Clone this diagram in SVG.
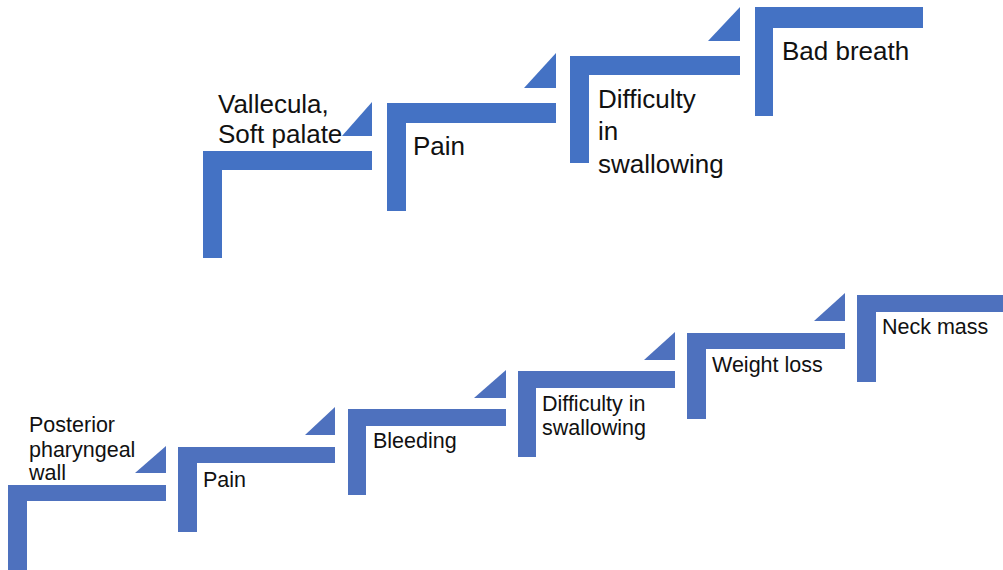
<svg xmlns="http://www.w3.org/2000/svg" width="1003" height="570" viewBox="0 0 1003 570">
<style>
.t{fill:#4472C4}
.b{fill:#4E71BE}
.lt{font-family:"Liberation Sans",Arial,sans-serif;font-size:26px;fill:#111}
.lb{font-family:"Liberation Sans",Arial,sans-serif;font-size:21.5px;fill:#111}
</style>
<rect width="1003" height="570" fill="#fff"/>
<g id="top-step1">
<polygon class="t" points="203,151 372,151 372,170 222,170 222,258 203,258"/>
<polygon class="t" points="342,136 372,102 372,136"/>
<text class="lt" x="218" y="113">Vallecula,</text>
<text class="lt" x="218" y="143">Soft palate</text>
</g>
<g id="top-step2">
<polygon class="t" points="387,103 556,103 556,123 406,123 406,211 387,211"/>
<polygon class="t" points="524,88 556,53 556,88"/>
<text class="lt" x="413" y="155">Pain</text>
</g>
<g id="top-step3">
<polygon class="t" points="570,56 740,56 740,75 589,75 589,163 570,163"/>
<polygon class="t" points="708,41 740,7 740,41"/>
<text class="lt" x="598" y="108">Difficulty</text>
<text class="lt" x="598" y="140">in</text>
<text class="lt" x="598" y="173">swallowing</text>
</g>
<g id="top-step4">
<polygon class="t" points="755,7 923,7 923,28 773,28 773,116 755,116"/>
<text class="lt" x="782" y="60">Bad breath</text>
</g>
<g id="bot-step1">
<polygon class="b" points="8,485 166,485 166,501 27,501 27,570 8,570"/>
<polygon class="b" points="135,473 166,446 166,473"/>
<text class="lb" x="29" y="432">Posterior</text>
<text class="lb" x="29" y="457">pharyngeal</text>
<text class="lb" x="29" y="480">wall</text>
</g>
<g id="bot-step2">
<polygon class="b" points="178,447 335,447 335,463 197,463 197,532 178,532"/>
<polygon class="b" points="305,435 335,407 335,435"/>
<text class="lb" x="203" y="487">Pain</text>
</g>
<g id="bot-step3">
<polygon class="b" points="348,409 506,409 506,426 366,426 366,495 348,495"/>
<polygon class="b" points="474,398 506,370 506,398"/>
<text class="lb" x="373" y="448">Bleeding</text>
</g>
<g id="bot-step4">
<polygon class="b" points="518,371 675,371 675,388 536,388 536,457 518,457"/>
<polygon class="b" points="644,360 675,332 675,360"/>
<text class="lb" x="542" y="411">Difficulty in</text>
<text class="lb" x="542" y="435">swallowing</text>
</g>
<g id="bot-step5">
<polygon class="b" points="687,333 845,333 845,349 706,349 706,419 687,419"/>
<polygon class="b" points="814,321 845,293 845,321"/>
<text class="lb" x="712" y="372">Weight loss</text>
</g>
<g id="bot-step6">
<polygon class="b" points="857,295 1003,295 1003,312 876,312 876,382 857,382"/>
<text class="lb" x="882" y="334">Neck mass</text>
</g>
<g id="connectors"></g>
</svg>
